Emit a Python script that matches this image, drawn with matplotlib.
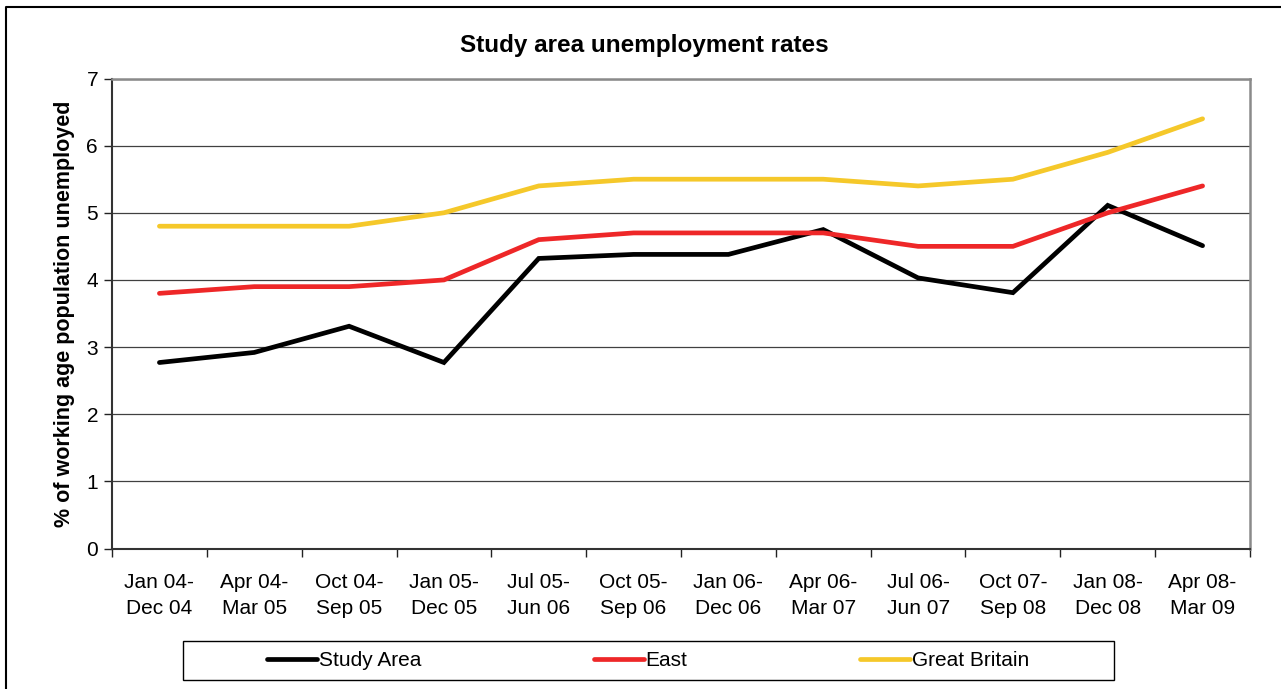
import matplotlib
matplotlib.use("Agg")
import matplotlib.pyplot as plt
from matplotlib.lines import Line2D
from matplotlib.patches import Rectangle

plt.rcParams['font.family'] = ['Liberation Sans', 'DejaVu Sans']

periods = ["Jan 04-\nDec 04", "Apr 04-\nMar 05", "Oct 04-\nSep 05", "Jan 05-\nDec 05",
           "Jul 05-\nJun 06", "Oct 05-\nSep 06", "Jan 06-\nDec 06", "Apr 06-\nMar 07",
           "Jul 06-\nJun 07", "Oct 07-\nSep 08", "Jan 08-\nDec 08", "Apr 08-\nMar 09"]
study_area = [2.77, 2.92, 3.31, 2.77, 4.32, 4.38, 4.38, 4.75, 4.03, 3.81, 5.11, 4.51]
east = [3.8, 3.9, 3.9, 4.0, 4.6, 4.7, 4.7, 4.7, 4.5, 4.5, 5.0, 5.4]
great_britain = [4.8, 4.8, 4.8, 5.0, 5.4, 5.5, 5.5, 5.5, 5.4, 5.5, 5.9, 6.4]
y_ticks = [0, 1, 2, 3, 4, 5, 6, 7]

W, H = 1281, 689
fig = plt.figure(figsize=(W / 100, H / 100), dpi=100)
ax = fig.add_axes([112 / W, 1 - 548.5 / H, (1250 - 112) / W, (548.5 - 78.5) / H])

x = range(len(periods))
series = [("Study Area", study_area, "#000000"),
          ("East", east, "#EE2728"),
          ("Great Britain", great_britain, "#F5C82A")]
for name, vals, col in series:
    ax.plot(x, vals, color=col, lw=3.4, solid_capstyle="round",
            solid_joinstyle="miter", label=name, zorder=3)

ax.set_xlim(-0.5, len(periods) - 0.5)
ax.set_ylim(0, 7)
ax.set_yticks(y_ticks)
ax.yaxis.grid(True, color="#404040", lw=0.9, zorder=1)
ax.set_axisbelow(True)

# category labels centred, tick marks on the category boundaries
ax.set_xticks(list(x))
ax.set_xticklabels(periods, fontsize=15, linespacing=1.46)
ax.set_xticks([i - 0.5 for i in range(len(periods) + 1)], minor=True)
ax.tick_params(axis="x", which="major", length=0, pad=17.5)
ax.tick_params(axis="x", which="minor", length=6, width=1, color="#222222")
ax.tick_params(axis="y", length=6, width=1, color="#222222", labelsize=15, pad=4)

for side in ("top", "right"):
    ax.spines[side].set_color("#8a8a8a")
    ax.spines[side].set_linewidth(1.8)
for side in ("left", "bottom"):
    ax.spines[side].set_color("#333333")
    ax.spines[side].set_linewidth(1.5)

ax.set_ylabel("% of working age population unemployed", fontsize=15.5,
              fontweight="bold", labelpad=8)
fig.text(644 / W, 1 - 51.7 / H, "Study area unemployment rates", fontsize=17.5,
         fontweight="bold", ha="center", va="baseline")

# legend with its own box underneath the axes
fig.patches.append(Rectangle((182.5 / W, 1 - 680 / H), 931 / W, 39 / H,
                             transform=fig.transFigure, fill=False,
                             edgecolor="#000000", lw=1.0))
handles, labels = ax.get_legend_handles_labels()
fig.legend(handles, labels, loc="center", bbox_to_anchor=(648 / W, 1 - 660.5 / H),
           ncol=3, frameon=False, fontsize=15, handlelength=2.4,
           handletextpad=0.1, columnspacing=8.27)

# outer border of the figure
fig.add_artist(Line2D([5.5 / W, 5.5 / W, 1.0], [0.0, 1 - 7 / H, 1 - 7 / H],
                      transform=fig.transFigure, color="#000000", lw=1.5))

fig.savefig("out.png", dpi=100)
